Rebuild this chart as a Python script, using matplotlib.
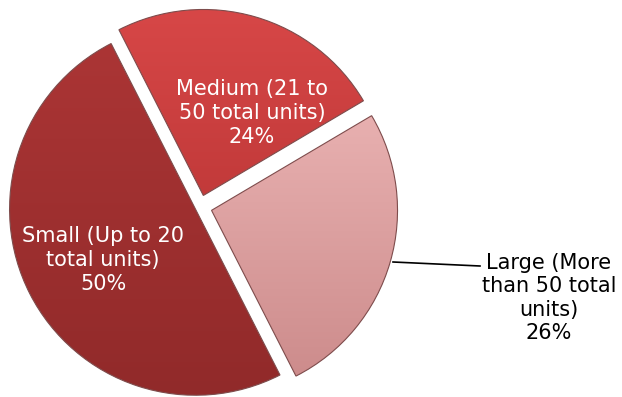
import numpy as np
import matplotlib
matplotlib.use('Agg')
import matplotlib.pyplot as plt
from matplotlib.colors import LinearSegmentedColormap

# property size mix
categories = ['Small (Up to 20\ntotal units)', 'Medium (21 to\n50 total units)', 'Large (More\nthan 50 total\nunits)']
shares = [50, 24, 26]
top_colors = ['#ab3535', '#d74747', '#e8b0b0']
bottom_colors = ['#912a2a', '#c23a3a', '#cd8c8c']

W, H = 622, 397
fig = plt.figure(figsize=(W / 100, H / 100), dpi=100)
ax = fig.add_axes([0, 0, 1, 1])

wedges, _ = ax.pie(shares, center=(200, H - 207), radius=186, startangle=-63,
                   counterclock=False, explode=[5, 12, 12],
                   colors=top_colors, wedgeprops=dict(linewidth=0))

# vertical shading on each slice
for w, c0, c1 in zip(wedges, top_colors, bottom_colors):
    cmap = LinearSegmentedColormap.from_list('s', [c1, c0])
    bb = w.get_path().get_extents()
    grad = np.linspace(0, 1, 256).reshape(-1, 1)
    im = ax.imshow(grad, cmap=cmap, origin='lower', aspect='auto',
                   extent=(bb.x0, bb.x1, bb.y0, bb.y1), zorder=2)
    im.set_clip_path(w)
    w.set_edgecolor('#7e4c4c')
    w.set_linewidth(0.8)
    w.set_zorder(3)
    w.set_facecolor('none')

font = dict(fontsize=15, family='DejaVu Sans', ha='center', va='center',
            linespacing=1.22, zorder=5)
ax.text(103, H - 260, f'{categories[0]}\n{shares[0]}%', color='white', **font)
ax.text(252, H - 113, f'{categories[1]}\n{shares[1]}%', color='white', **font)
ax.text(549, H - 298, f'{categories[2]}\n{shares[2]}%', color='black', **font)

# leader for the outside label
ax.plot([393, 480], [H - 262, H - 266], color='black', lw=1.2, zorder=5)

ax.set_xlim(0, W)
ax.set_ylim(0, H)
ax.set_aspect('auto')
ax.axis('off')

fig.savefig('out.png', dpi=100)
